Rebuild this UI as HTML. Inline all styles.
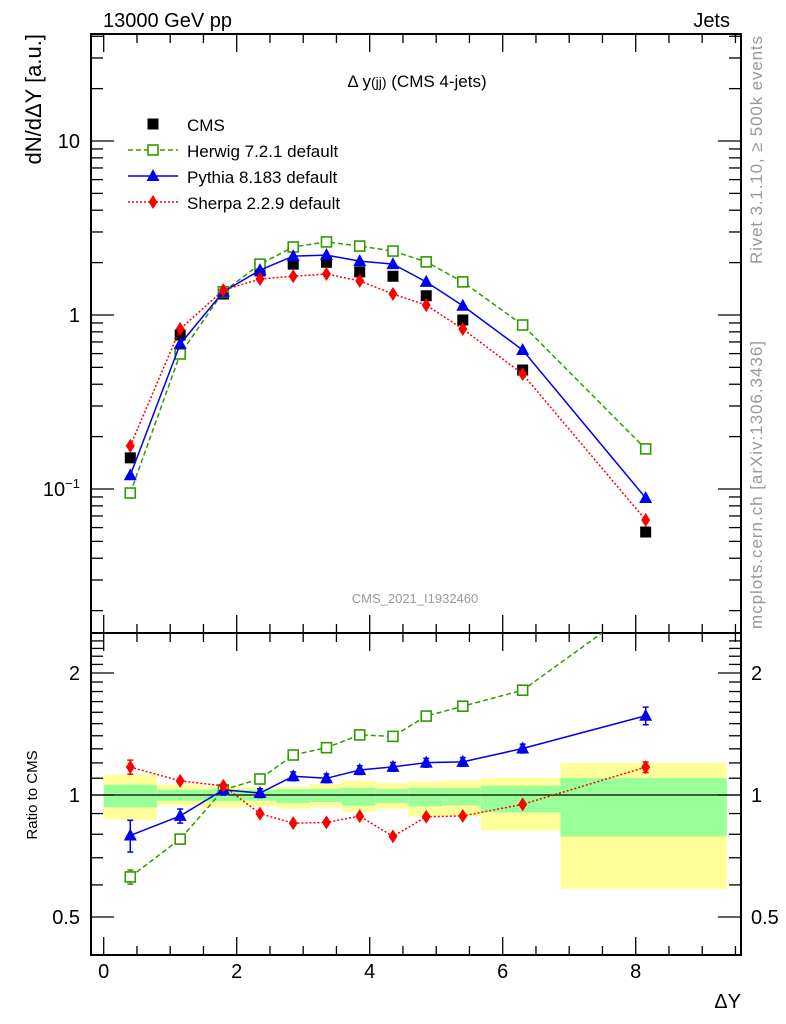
<!DOCTYPE html>
<html><head><meta charset="utf-8"><style>
html,body{margin:0;padding:0;background:#fff}
svg{display:block;font-family:"Liberation Sans",sans-serif}
</style></head><body>
<svg id="c" width="786" height="1024" xmlns="http://www.w3.org/2000/svg"></svg>
<script>
const xs=[0.4,1.15,1.8,2.35,2.85,3.35,3.85,4.35,4.85,5.4,6.3,8.15];
const cms=[0.151,0.767,1.32,1.79,1.96,2.01,1.77,1.67,1.29,0.936,0.483,0.0566];
const herwig=[0.0948,0.597,1.36,1.96,2.46,2.63,2.49,2.33,2.02,1.55,0.876,0.170];
const pythia=[0.120,0.681,1.36,1.81,2.18,2.21,2.04,1.96,1.55,1.13,0.629,0.0888];
const sherpa=[0.177,0.831,1.39,1.61,1.67,1.72,1.57,1.32,1.14,0.831,0.458,0.0663];
const pyErr=[0.09,0.04,0.03,0.025,0.025,0.025,0.025,0.025,0.025,0.025,0.025,0.05];
const hwErr=[0.04,0.01,0.01,0.01,0.01,0.01,0.01,0.01,0.01,0.01,0.01,0.01];
const shErr=[0.04,0.01,0.01,0.01,0.01,0.01,0.01,0.01,0.01,0.01,0.01,0.03];
const binEdges=[0,0.8,1.49,2.07,2.6,3.1,3.58,4.09,4.58,5.09,5.67,6.87,9.37];
const totUp=[1.122,1.06,1.05,1.045,1.05,1.064,1.085,1.071,1.077,1.085,1.101,1.2];
const totDn=[0.869,0.943,0.932,0.938,0.925,0.932,0.911,0.924,0.886,0.886,0.817,0.587];
const statUp=[1.06,1.031,1.031,1.031,1.035,1.035,1.041,1.035,1.041,1.041,1.054,1.101];
const statDn=[0.932,0.968,0.965,0.968,0.956,0.961,0.941,0.956,0.938,0.943,0.906,0.79];
const xTicks=[0,2,4,6,8];
const yMainTicks=[{v:10,t:"10"},{v:1,t:"1"}];
const yRatioTicks=[{v:2,t:"2"},{v:1,t:"1"},{v:0.5,t:"0.5"}];

const L=91,R=741,T=34,M=633,B=955;
const X=v=>103.7+66.5*v;
const Y=v=>315-174*Math.log10(v);
const YR=v=>795-122*Math.log2(v);
const svg=document.getElementById('c');
const NS='http://www.w3.org/2000/svg';
function el(tag,attrs,parent){const e=document.createElementNS(NS,tag);for(const k in attrs)e.setAttribute(k,attrs[k]);(parent||svg).appendChild(e);return e;}
function txt(s,attrs,parent){const e=el('text',attrs,parent);e.textContent=s;return e;}

const defs=el('defs',{});
const cp1=el('clipPath',{id:'cm'},defs);el('rect',{x:L,y:T,width:R-L,height:M-T},cp1);
const cp2=el('clipPath',{id:'cr'},defs);el('rect',{x:L,y:M,width:R-L,height:B-M},cp2);

const bands=el('g',{'clip-path':'url(#cr)'});


for(let i=0;i<totUp.length;i++){
  const x1=X(binEdges[i]),x2=X(binEdges[i+1]);
  const y=el('rect',{x:x1,y:YR(totUp[i]),width:x2-x1,height:YR(totDn[i])-YR(totUp[i]),fill:'#ffff99'},bands);
  
  
  const g=el('rect',{x:x1,y:YR(statUp[i]),width:x2-x1,height:YR(statDn[i])-YR(statUp[i]),fill:'#99ff99'},bands);
  
  
}
el('line',{x1:L,x2:R,y1:YR(1),y2:YR(1),stroke:'#000','stroke-width':1.3});

const frame=el('g',{fill:'none',stroke:'#000','stroke-width':2});


el('rect',{x:L,y:T,width:R-L,height:B-T},frame);
el('line',{x1:L,x2:R,y1:M,y2:M},frame);

const tk=el('g',{stroke:'#000','stroke-width':1.3});
for(let v=0;v<=9.5;v+=0.5){
  const maj=Math.abs(v%2)<1e-6, len=maj?18:9, x=X(v);
  [[M,M-len],[M,M+len],[B,B-len],[T,T+len]].forEach(p=>el('line',{x1:x,x2:x,y1:p[0],y2:p[1]},tk));
}
xTicks.forEach(v=>{const t=txt(String(v),{x:X(v),y:978,'font-size':20,'text-anchor':'middle'});

});
for(let d=-2;d<=1;d++)for(let k=1;k<10;k++){
  const v=k*Math.pow(10,d),y=Y(v);if(y<T||y>M)continue;
  const len=k==1?23:12;
  el('line',{x1:L,x2:L+len,y1:y,y2:y},tk);el('line',{x1:R,x2:R-len,y1:y,y2:y},tk);
}
yMainTicks.forEach(o=>{const t=txt(o.t,{x:80,y:Y(o.v)+7,'font-size':20,'text-anchor':'end'});

});
{const t=el('text',{x:80,y:Y(0.1)+7,'font-size':20,'text-anchor':'end'});t.innerHTML='10<tspan dy="-8" font-size="13">−1</tspan>';

}
for(let v=0.4;v<=2.5;v+=0.1){
  const y=YR(v);if(y<M||y>B)continue;
  const maj=[0.5,1,2].some(m=>Math.abs(m-v)<1e-6),len=maj?23:12;
  el('line',{x1:L,x2:L+len,y1:y,y2:y},tk);el('line',{x1:R,x2:R-len,y1:y,y2:y},tk);
}
yRatioTicks.forEach(o=>{
  const a=txt(o.t,{x:80,y:YR(o.v)+7,'font-size':20,'text-anchor':'end'});
  
  
  const b=txt(o.t,{x:751,y:YR(o.v)+7,'font-size':20});
  
  
});

function marker(g,type,x,y,color){
  if(type=='sq')el('rect',{x:x-5.5,y:y-5.5,width:11,height:11,fill:'#000'},g);
  else if(type=='osq')el('rect',{x:x-5,y:y-5,width:10,height:10,fill:'#fff',stroke:color,'stroke-width':1.6},g);
  else if(type=='tri')el('polygon',{points:`${x},${y-7} ${x-6.5},${y+5} ${x+6.5},${y+5}`,fill:color},g);
  else el('polygon',{points:`${x},${y-7} ${x-4.5},${y} ${x},${y+7} ${x+4.5},${y}`,fill:color},g);
}
function series(name,vals,errs,color,dash,type,ratio){
  const g=el('g',{'clip-path':ratio?'url(#cr)':'url(#cm)'});
  
  
  const yf=ratio?(i=>YR(vals[i]/cms[i])):(i=>Y(vals[i]));
  if(color)el('polyline',{points:xs.map((x,i)=>X(x)+','+yf(i)).join(' '),fill:'none',stroke:color,'stroke-width':1.5,'stroke-dasharray':dash},g);
  xs.forEach((x,i)=>{
    if(errs&&ratio){const r=vals[i]/cms[i];const y1=YR(r*(1+errs[i])),y2=YR(r*(1-errs[i]));
      el('line',{x1:X(x),x2:X(x),y1:y1,y2:y2,stroke:color,'stroke-width':1.5},g);
      el('line',{x1:X(x)-3,x2:X(x)+3,y1:y1,y2:y1,stroke:color,'stroke-width':1.5},g);
      el('line',{x1:X(x)-3,x2:X(x)+3,y1:y2,y2:y2,stroke:color,'stroke-width':1.5},g);}
    marker(g,type,X(x),yf(i),color||'#000');
  });
}
series('cms-data',cms,null,null,null,'sq',false);
series('herwig-series',herwig,null,'#339900','5,3','osq',false);
series('pythia-series',pythia,null,'#0000ee','','tri',false);
series('sherpa-series',sherpa,null,'#ff0000','2,2','dia',false);
series('herwig-ratio',herwig,hwErr,'#339900','5,3','osq',true);
series('pythia-ratio',pythia,pyErr,'#0000ee','','tri',true);
series('sherpa-ratio',sherpa,shErr,'#ff0000','2,2','dia',true);

const lg=el('g',{});


const items=[['CMS',null,null,'sq'],['Herwig 7.2.1 default','#339900','5,3','osq'],['Pythia 8.183 default','#0000ee','','tri'],['Sherpa 2.2.9 default','#ff0000','2,2','dia']];
items.forEach((it,i)=>{
  const y=124+26*i;
  const e=el('g',{},lg);
  
  
  if(it[1])el('line',{x1:128,x2:178,y1:y,y2:y,stroke:it[1],'stroke-width':1.5,'stroke-dasharray':it[2]},e);
  marker(e,it[3],153,y,it[1]||'#000');
  txt(it[0],{x:187,y:y+7,'font-size':17},e);
});

function label(s,attrs,name){const t=txt(s,attrs);return t;}
label('13000 GeV pp',{x:103,y:27,'font-size':20},'energy-label');
label('Jets',{x:730,y:27,'font-size':20,'text-anchor':'end'},'process-label');
{const t=el('text',{x:417,y:87,'font-size':17,'text-anchor':'middle'});t.innerHTML='Δ y<tspan font-size="14">(jj)</tspan> (CMS 4-jets)';
}
label('CMS_2021_I1932460',{x:415,y:603,'font-size':13,fill:'#999','text-anchor':'middle'},'analysis-id');
label('dN/dΔY [a.u.]',{x:0,y:0,'font-size':22,'text-anchor':'end',transform:'translate(41,34) rotate(-90)'},'y-axis-title');
label('Ratio to CMS',{x:0,y:0,'font-size':15,'text-anchor':'middle',transform:'translate(37,795) rotate(-90)'},'ratio-axis-title');
label('ΔY',{x:741,y:1008,'font-size':20,'text-anchor':'end'},'x-axis-title');
label('Rivet 3.1.10, ≥ 500k events',{x:0,y:0,'font-size':17,fill:'#999','text-anchor':'middle',textLength:228,transform:'translate(762,150) rotate(-90)'},'rivet-label');
label('mcplots.cern.ch [arXiv:1306.3436]',{x:0,y:0,'font-size':17,fill:'#999','text-anchor':'middle',textLength:288,transform:'translate(762,485) rotate(-90)'},'mcplots-label');
</script>
</body></html>
